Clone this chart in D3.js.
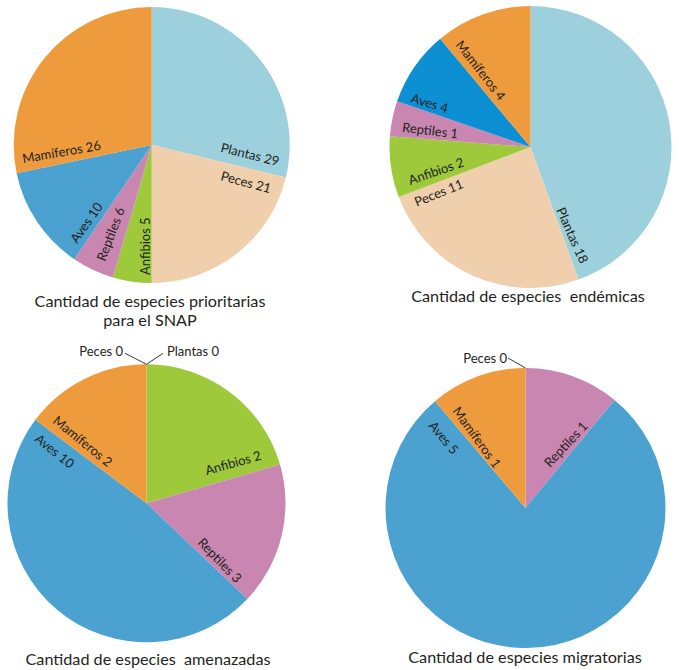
<!DOCTYPE html>
<html>
<head>
<meta charset="utf-8">
<script src="https://cdn.jsdelivr.net/npm/d3@7"></script>
<style>
  html, body { margin: 0; padding: 0; background: #ffffff; }
  svg { display: block; }
  text { font-family: Lato, "Noto Sans", sans-serif; fill: #231f20; }
</style>
</head>
<body>
<svg id="chart" width="679" height="670"></svg>
<script>
// ---------- DATA ----------
// Categories in clockwise order from 12 o'clock, printed counts, and slice sweep (degrees) as drawn in the picture
const prioritariasCategorias = ["Plantas", "Peces", "Anfibios", "Reptiles", "Aves", "Mamíferos"];
const prioritariasValores    = [29, 21, 5, 6, 10, 26];
const prioritariasGrados     = [103.6, 76.4, 16.3, 17.8, 44.1, 101.8];

const endemicasCategorias = ["Plantas", "Peces", "Anfibios", "Reptiles", "Aves", "Mamíferos"];
const endemicasValores    = [18, 11, 2, 1, 4, 4];
const endemicasGrados     = [160.1, 89.1, 25.2, 14.5, 31.3, 39.8];

const amenazadasCategorias = ["Plantas", "Anfibios", "Reptiles", "Aves", "Mamíferos", "Peces"];
const amenazadasValores    = [0, 2, 3, 10, 2, 0];
const amenazadasGrados     = [0, 73.8, 59.7, 173.4, 53.1, 0];

const migratoriasCategorias = ["Reptiles", "Aves", "Mamíferos", "Peces"];
const migratoriasValores    = [1, 5, 1, 0];
const migratoriasGrados     = [39.5, 280.2, 40.3, 0];

const titulos = [
  ["Cantidad de especies prioritarias", "para el SNAP"],
  ["Cantidad de especies  endémicas"],
  ["Cantidad de especies  amenazadas"],
  ["Cantidad de especies migratorias"]
];

// ---------- STYLE / LAYOUT ----------
const colores = {
  "Plantas": "#9cd0dc", "Peces": "#efcfac", "Anfibios": "#9dc93b",
  "Reptiles": "#c886b1", "Aves": "#4ba1cf", "Mamíferos": "#ee9b3d"
};
const avesEndemicas = "#0d8fd4";

// label layout: [angle deg (clockwise from top), radius px, rotation deg]
const layouts = [
  { cx: 151.7, cy: 145, r: 138, titleX: 150, titleY: 306.5, lineH: 19.5,
    labels: { "Plantas": [95.6, 68.6, 14], "Peces": [117.1, 76.7, 15], "Anfibios": [180.7, 130, -90],
              "Reptiles": [201.8, 126, -69], "Aves": [217, 124, -55], "Mamíferos": [261.9, 129.7, -10] } },
  { cx: 530.5, cy: 147, r: 141, titleX: 528, titleY: 302, lineH: 19.5,
    labels: { "Plantas": [158, 68, 66], "Peces": [242.3, 128.5, -22], "Anfibios": [252.5, 126, -19],
              "Reptiles": [276.8, 129.7, 7], "Aves": [290.5, 128.6, 17], "Mamíferos": [323.5, 127, 52] } },
  { cx: 146.5, cy: 503.3, r: 139, titleX: 148, titleY: 665, lineH: 19.5,
    labels: { "Anfibios": [65, 66.4, -16], "Reptiles": [128.4, 64.4, 46],
              "Aves": [299.3, 129, 39], "Mamíferos": [310.6, 124.5, 39] },
    leaders: { "Peces": { tx: -23.5, ty: -8, lx: -21.5, ly: -11, anchor: "end" },
               "Plantas": { tx: 20.5, ty: -8, lx: 16.5, ly: -11, anchor: "start" } } },
  { cx: 525.5, cy: 508, r: 140, titleX: 525, titleY: 663, lineH: 19.5,
    labels: { "Reptiles": [31.5, 47, -47], "Aves": [310, 127.4, 50], "Mamíferos": [322.8, 121.7, 54] },
    leaders: { "Peces": { tx: -18.5, ty: -5, lx: -17.5, ly: -10, anchor: "end" } } }
];

const pies = [
  { cats: prioritariasCategorias, vals: prioritariasValores, deg: prioritariasGrados, avesColor: colores["Aves"] },
  { cats: endemicasCategorias, vals: endemicasValores, deg: endemicasGrados, avesColor: avesEndemicas },
  { cats: amenazadasCategorias, vals: amenazadasValores, deg: amenazadasGrados, avesColor: colores["Aves"] },
  { cats: migratoriasCategorias, vals: migratoriasValores, deg: migratoriasGrados, avesColor: colores["Aves"] }
];

const svg = d3.select("#chart");
const toRad = d => d * Math.PI / 180;

pies.forEach((p, i) => {
  const L = layouts[i];
  const g = svg.append("g").attr("transform", `translate(${L.cx},${L.cy})`);
  const data = p.cats.map((c, k) => ({ cat: c, val: p.vals[k], deg: p.deg[k] }));
  const pie = d3.pie().sort(null).value(d => d.deg).startAngle(0).endAngle(2 * Math.PI);
  const arc = d3.arc().innerRadius(0).outerRadius(L.r);
  const arcs = pie(data);

  g.selectAll("path.slice").data(arcs.filter(a => a.data.deg > 0)).join("path")
    .attr("class", "slice")
    .attr("d", arc)
    .attr("fill", d => d.data.cat === "Aves" ? p.avesColor : colores[d.data.cat]);

  // in-slice labels
  data.forEach(d => {
    const spec = L.labels[d.cat];
    if (!spec) return;
    const [ang, rad, rot] = spec;
    const [x, y] = d3.pointRadial(toRad(ang), rad);
    g.append("text")
      .attr("transform", `translate(${x},${y}) rotate(${rot})`)
      .attr("font-size", 13)
      .text(`${d.cat} ${d.val}`);
  });

  // leader labels for zero slices
  if (L.leaders) {
    const top = d3.pointRadial(0, L.r);
    data.forEach(d => {
      const s = L.leaders[d.cat];
      if (!s) return;
      g.append("path")
        .attr("d", d3.line()([[top[0] + s.lx, top[1] + s.ly], top]))
        .attr("stroke", "#231f20").attr("stroke-width", 0.9).attr("fill", "none");
      g.append("text")
        .attr("x", top[0] + s.tx).attr("y", top[1] + s.ty)
        .attr("text-anchor", s.anchor)
        .attr("font-size", 13)
        .text(`${d.cat} ${d.val}`);
    });
  }

  // title
  titulos[i].forEach((t, k) => {
    svg.append("text")
      .attr("x", L.titleX).attr("y", L.titleY + k * L.lineH)
      .attr("text-anchor", "middle")
      .attr("font-size", 16.2)
      .attr("xml:space", "preserve")
      .style("white-space", "pre")
      .text(t);
  });
});
</script>
</body>
</html>
